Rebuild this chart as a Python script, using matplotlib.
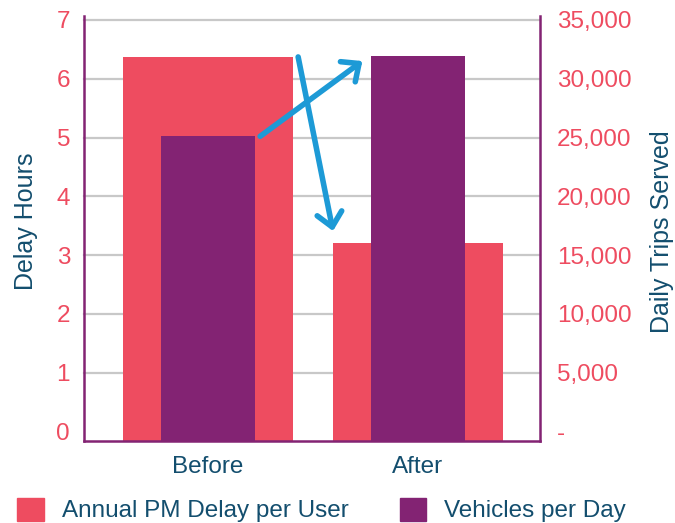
import matplotlib
matplotlib.use("Agg")
import matplotlib.pyplot as plt
from matplotlib.patches import Patch
from matplotlib.ticker import FuncFormatter

# Data
categories = ["Before", "After"]
pm_delay_hours = [6.37, 3.21]          # Annual PM Delay per User (left axis)
vehicles_per_day = [25100, 31900]      # Vehicles per Day (right axis)
delay_ticks = [0, 1, 2, 3, 4, 5, 6, 7]
trips_ticks = [0, 5000, 10000, 15000, 20000, 25000, 30000, 35000]

RED = "#EE4C60"
PURPLE = "#832373"
NAVY = "#134E6E"
BLUE = "#1D9AD6"
GRID = "#C8C8C8"

plt.rcParams["font.family"] = ["Liberation Sans", "DejaVu Sans"]

fig = plt.figure(figsize=(6.75, 5.23), dpi=100)
ax = fig.add_axes([84 / 675, 1 - 441 / 523, 456 / 675, 422 / 523])
ax2 = ax.twinx()

ymin, ymax = -0.16, 7.015
scale = 5000.0
ax.set_ylim(ymin, ymax)
ax2.set_ylim(ymin * scale, ymax * scale)
ax.set_xlim(-0.59, 1.582)

x = list(range(len(categories)))
red_w = 0.808
purple_w = 0.448

ax.bar(x, [v - ymin for v in pm_delay_hours], bottom=ymin, width=red_w,
       color=RED, zorder=2, label="Annual PM Delay per User")
ax2.bar(x, [v - ymin * scale for v in vehicles_per_day], bottom=ymin * scale,
        width=purple_w, color=PURPLE, zorder=2, label="Vehicles per Day")

# gridlines (no line at zero)
for t in delay_ticks[1:]:
    ax.axhline(t, color=GRID, lw=1.6, zorder=1, clip_on=False)

ax.set_yticks(delay_ticks)
ax2.set_yticks(trips_ticks)
ax2.yaxis.set_major_formatter(FuncFormatter(lambda v, p: "-" if v == 0 else f"{int(v):,}"))
ax.set_xticks(x)
ax.set_xticklabels(categories)

for a in (ax, ax2):
    a.tick_params(length=0)
    for s in a.spines.values():
        s.set_visible(False)
ax.tick_params(axis="y", colors=RED, labelsize=17.5, pad=10)
ax2.tick_params(axis="y", colors=RED, labelsize=17.5, pad=12)
ax.tick_params(axis="x", colors=NAVY, labelsize=17.5, pad=11)

for sp_ax, name in ((ax, "left"), (ax, "bottom"), (ax2, "right")):
    sp = sp_ax.spines[name]
    sp.set_visible(True)
    sp.set_color(PURPLE)
    sp.set_linewidth(1.8)
ax.spines["left"].set_bounds(ymin, ymax + 0.05)
ax2.spines["right"].set_bounds(ymin * scale, (ymax + 0.05) * scale)

fig.text(25.5 / 675, 1 - 221 / 523, "Delay Hours", rotation=90, ha="center",
         va="center", color=NAVY, fontsize=18)
fig.text(662 / 675, 1 - 231.5 / 523, "Daily Trips Served", rotation=90, ha="center",
         va="center", color=NAVY, fontsize=18)

# change arrows
arrow_kw = dict(arrowstyle="->,head_length=0.5,head_width=0.45", color=BLUE,
                lw=4.0, capstyle="round", joinstyle="round", shrinkA=0, shrinkB=0,
                mutation_scale=20)
ax2.annotate("", xy=(1 - purple_w / 2 - 0.04, vehicles_per_day[1] - 400),
             xytext=(purple_w / 2 + 0.025, vehicles_per_day[0]),
             arrowprops=arrow_kw, zorder=5)
ax2.annotate("", xy=(1 - red_w / 2, (pm_delay_hours[1] + 0.2) * scale),
             xytext=(0.43, pm_delay_hours[0] * scale),
             arrowprops=arrow_kw, zorder=5)

handles = [Patch(color=RED), Patch(color=PURPLE)]
labels = ["Annual PM Delay per User", "Vehicles per Day"]
fig.legend(handles, labels, loc="upper left", bbox_to_anchor=(17 / 675, 1 - 497.5 / 523),
           ncol=2, frameon=False, handlelength=1.1, handleheight=1.1,
           handletextpad=0.74, columnspacing=2.1, borderpad=0, borderaxespad=0,
           fontsize=17.5, labelcolor=NAVY)

fig.savefig("out.png", dpi=100)
